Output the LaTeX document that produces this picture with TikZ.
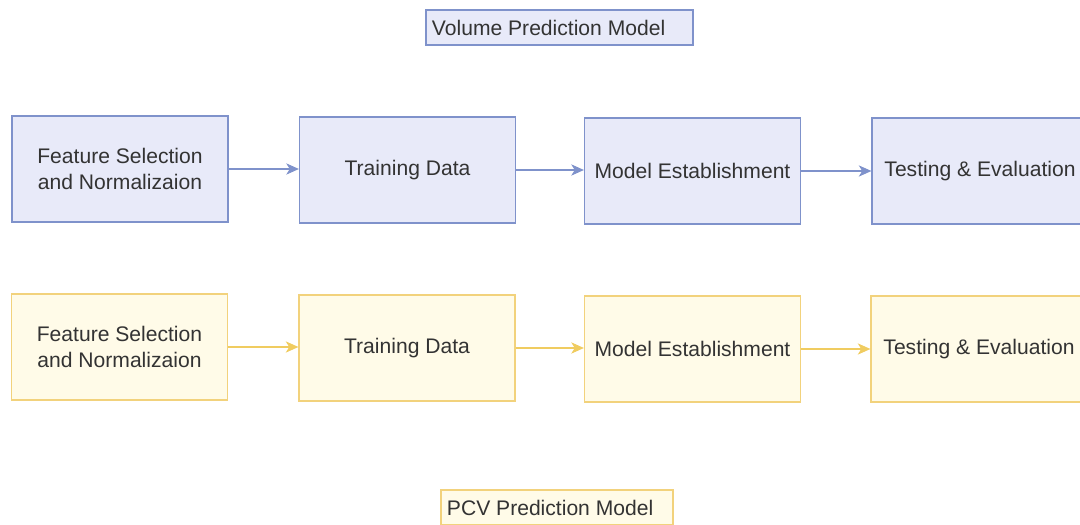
\documentclass[tikz,border=0pt]{standalone}
\usepackage{fontspec}
\setmainfont{Liberation Sans}
\usetikzlibrary{arrows.meta}

\definecolor{bluefill}{HTML}{E8EAF9}
\definecolor{blueline}{HTML}{7F92CB}
\definecolor{yellowfill}{HTML}{FFFBE8}
\definecolor{yellowline}{HTML}{F2D27C}
\definecolor{yellowarrow}{HTML}{F0CC60}
\definecolor{txt}{HTML}{333333}

\begin{document}
\begin{tikzpicture}[x=0.025cm,y=-0.025cm,
    box/.style={draw,line width=0.8pt,minimum width=5.4cm,minimum height=2.65cm,
      inner sep=0pt,align=center,text=txt,font=\fontsize{15}{18}\selectfont},
    bluebox/.style={box,fill=bluefill,draw=blueline},
    yellowbox/.style={box,fill=yellowfill,draw=yellowline},
    tag/.style={draw,line width=0.8pt,minimum height=0.875cm,inner ysep=0pt,
      inner xsep=0.15cm,align=flush left,text=txt,font=\fontsize{15}{18}\selectfont},
    link/.style={line width=0.8pt,-{Stealth[length=9pt,width=8pt,inset=2.5pt]}}]
    \useasboundingbox (0,0) rectangle (1080,525);
    \clip (0,0) rectangle (1080,525);
    % volume model
    \node[tag,fill=bluefill,draw=blueline,text width=6.375cm] (vtitle) at (559.5,27.5) {Volume Prediction Model};
    \node[bluebox] (vfeat) at (120,169) {Feature Selection\\and Normalizaion};
    \node[bluebox] (vtrain) at (407.5,170) {Training Data};
    \node[bluebox] (vmodel) at (692.5,171) {Model Establishment};
    \node[bluebox] (vtest) at (980,171) {Testing \& Evaluation};
    \draw[link,blueline] (vfeat.east) -- (vfeat.east -| vtrain.west);
    \draw[link,blueline] (vtrain.east) -- (vtrain.east -| vmodel.west);
    \draw[link,blueline] (vmodel.east) -- (vmodel.east -| vtest.west);
    % pcv model
    \node[yellowbox] (pfeat) at (119.5,347) {Feature Selection\\and Normalizaion};
    \node[yellowbox] (ptrain) at (407,348) {Training Data};
    \node[yellowbox] (pmodel) at (692.5,349) {Model Establishment};
    \node[yellowbox] (ptest) at (979,349) {Testing \& Evaluation};
    \draw[link,yellowarrow] (pfeat.east) -- (pfeat.east -| ptrain.west);
    \draw[link,yellowarrow] (ptrain.east) -- (ptrain.east -| pmodel.west);
    \draw[link,yellowarrow] (pmodel.east) -- (pmodel.east -| ptest.west);
    \node[tag,fill=yellowfill,draw=yellowline,text width=5.5cm] (ptitle) at (557,507.5) {PCV Prediction Model};
\end{tikzpicture}
\end{document}
